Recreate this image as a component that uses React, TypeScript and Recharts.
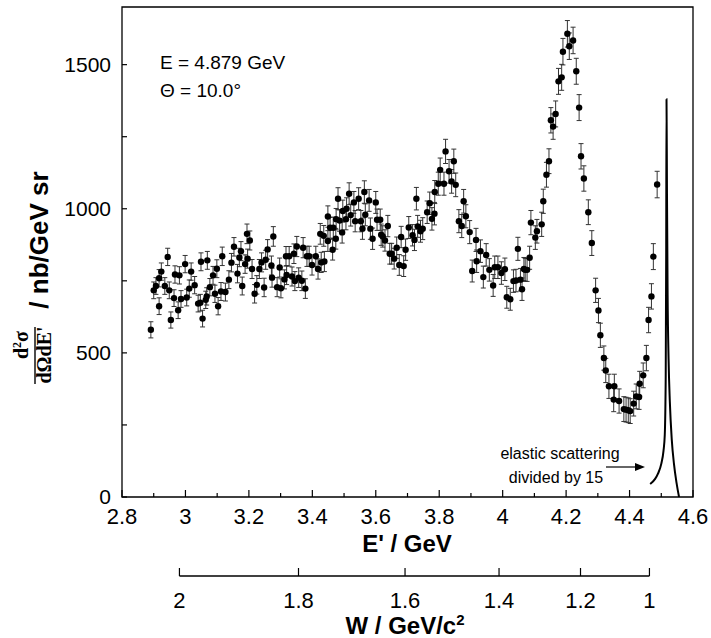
import React from 'react';
import { ComposedChart, Scatter, ErrorBar, Line, XAxis, YAxis, ReferenceArea } from 'recharts';

// measured inclusive cross section, E' in GeV, d2sigma/dOmega dE' in nb/GeV sr
const ePrime = [
  2.891, 2.900, 2.907, 2.917, 2.917, 2.924, 2.935, 2.944, 2.949, 2.954,
  2.964, 2.967, 2.977, 2.981, 2.986, 2.999, 3.004, 3.012, 3.018, 3.029,
  3.040, 3.047, 3.049, 3.054, 3.064, 3.067, 3.069, 3.077, 3.087, 3.093,
  3.099, 3.103, 3.112, 3.116, 3.126, 3.137, 3.145, 3.153, 3.164, 3.170,
  3.175, 3.179, 3.188, 3.194, 3.196, 3.203, 3.210, 3.218, 3.225, 3.233,
  3.240, 3.248, 3.253, 3.259, 3.271, 3.273, 3.277, 3.289, 3.297, 3.301,
  3.312, 3.317, 3.319, 3.327, 3.336, 3.342, 3.345, 3.351, 3.357, 3.367,
  3.371, 3.378, 3.383, 3.390, 3.399, 3.411, 3.418, 3.425, 3.428, 3.436,
  3.438, 3.449, 3.449, 3.456, 3.464, 3.466, 3.474, 3.475, 3.481, 3.486,
  3.494, 3.496, 3.506, 3.508, 3.516, 3.521, 3.531, 3.535, 3.546, 3.553,
  3.558, 3.564, 3.567, 3.579, 3.583, 3.590, 3.600, 3.604, 3.614, 3.617,
  3.622, 3.629, 3.638, 3.644, 3.650, 3.658, 3.666, 3.674, 3.680, 3.688,
  3.694, 3.704, 3.716, 3.722, 3.728, 3.732, 3.741, 3.748, 3.762, 3.770,
  3.777, 3.785, 3.786, 3.797, 3.803, 3.815, 3.820, 3.831, 3.839, 3.846,
  3.852, 3.862, 3.871, 3.877, 3.884, 3.896, 3.904, 3.916, 3.918, 3.930,
  3.939, 3.948, 3.958, 3.970, 3.975, 3.985, 3.996, 4.007, 4.013, 4.024,
  4.034, 4.042, 4.048, 4.056, 4.061, 4.067, 4.071, 4.077, 4.085, 4.089,
  4.103, 4.108, 4.123, 4.128, 4.138, 4.146, 4.152, 4.159, 4.167, 4.176,
  4.186, 4.190, 4.204, 4.210, 4.222, 4.232, 4.241, 4.247, 4.256, 4.270,
  4.281, 4.293, 4.302, 4.308, 4.319, 4.325, 4.335, 4.350, 4.352, 4.367,
  4.382, 4.389, 4.396, 4.402, 4.413, 4.421, 4.430, 4.432, 4.443, 4.453,
  4.460, 4.469, 4.475, 4.487,
];
const sigma = [
  580, 717, 732, 662, 759, 782, 732, 833, 717, 614,
  690, 772, 648, 769, 687, 808, 692, 723, 782, 735,
  671, 674, 816, 619, 684, 696, 821, 728, 769, 705,
  792, 662, 713, 835, 711, 754, 813, 868, 775, 831,
  853, 732, 808, 913, 827, 890, 791, 705, 736, 791,
  814, 727, 823, 859, 803, 761, 904, 728, 796, 724,
  755, 835, 770, 835, 765, 844, 749, 869, 761, 750,
  865, 723, 835, 835, 805, 835, 791, 913, 814, 906,
  817, 973, 888, 934, 858, 934, 896, 964, 1035, 959,
  918, 992, 964, 1000, 1052, 978, 1022, 957, 1035, 957,
  931, 1058, 979, 1029, 931, 896, 1022, 962, 962, 910,
  904, 890, 940, 844, 844, 827, 865, 805, 902, 801,
  858, 935, 908, 892, 1035, 939, 922, 931, 988, 1019,
  965, 983, 1058, 1087, 1135, 1087, 1199, 1130, 1095, 1165,
  1083, 957, 940, 1026, 974, 919, 784, 892, 818, 853,
  763, 840, 788, 734, 797, 797, 777, 790, 693, 686,
  749, 751, 861, 754, 721, 791, 788, 788, 830, 952,
  900, 922, 946, 1026, 1118, 1165, 1307, 1285, 1329, 1442,
  1456, 1545, 1607, 1564, 1584, 1477, 1351, 1182, 1105, 988,
  881, 717, 647, 561, 482, 439, 384, 338, 384, 333,
  305, 303, 301, 298, 324, 349, 347, 393, 422, 482,
  614, 696, 834, 1084,
];
const sigmaErr = [
  28, 29, 29, 29, 30, 30, 29, 30, 29, 28,
  29, 30, 29, 30, 29, 30, 29, 30, 30, 30,
  29, 29, 31, 29, 30, 30, 31, 30, 31, 30,
  31, 30, 31, 32, 31, 31, 32, 32, 32, 32,
  33, 31, 32, 34, 33, 33, 33, 32, 32, 33,
  33, 32, 33, 34, 33, 33, 34, 33, 33, 33,
  33, 34, 33, 34, 33, 34, 33, 35, 34, 34,
  35, 34, 35, 35, 35, 35, 35, 36, 35, 36,
  35, 37, 36, 36, 36, 37, 36, 37, 38, 37,
  37, 38, 37, 38, 38, 38, 38, 37, 38, 37,
  37, 39, 38, 38, 37, 37, 38, 37, 37, 37,
  37, 37, 37, 36, 36, 36, 37, 36, 37, 36,
  37, 38, 37, 37, 39, 38, 38, 38, 39, 39,
  39, 39, 40, 40, 41, 40, 42, 41, 41, 42,
  41, 40, 40, 41, 40, 40, 38, 40, 39, 39,
  38, 39, 39, 38, 39, 39, 39, 39, 38, 38,
  39, 39, 40, 39, 39, 40, 40, 40, 40, 42,
  41, 41, 42, 42, 43, 43, 44, 44, 45, 45,
  45, 46, 46, 46, 46, 45, 45, 44, 44, 43,
  43, 42, 42, 42, 42, 42, 42, 42, 42, 42,
  43, 43, 43, 43, 43, 43, 43, 43, 43, 44,
  44, 44, 45, 46,
];

// elastic peak (already divided by 15)
const elasticE = [4.465, 4.48, 4.49, 4.5, 4.507, 4.511, 4.514, 4.5155, 4.5165, 4.518, 4.52, 4.523, 4.527, 4.533, 4.54, 4.548, 4.556];
const elasticSigma = [45, 62, 82, 115, 160, 215, 420, 850, 1380, 1050, 700, 480, 330, 200, 115, 50, 0];

const eTicks = [2.8, 2.9, 3.0, 3.1, 3.2, 3.3, 3.4, 3.5, 3.6, 3.7, 3.8, 3.9, 4.0, 4.1, 4.2, 4.3, 4.4, 4.5, 4.6];
const eLabels = [2.8, 3, 3.2, 3.4, 3.6, 3.8, 4, 4.2, 4.4, 4.6];
const sigmaTicks = [0, 250, 500, 750, 1000, 1250, 1500];
const sigmaLabels = [0, 500, 1000, 1500];
const wTicks = [2, 1.8, 1.6, 1.4, 1.2, 1];

const beamEnergy = 4.879;
const thetaDeg = 10;
const protonMass = 0.93827;

// W -> E' at fixed beam energy and angle
const kinDenom = 2 * protonMass + 4 * beamEnergy * Math.sin((thetaDeg * Math.PI) / 360) ** 2;
const eFromW = (w: number) => (protonMass * protonMass + 2 * protonMass * beamEnergy - w * w) / kinDenom;

const points = ePrime.map((x, i) => ({ x, y: sigma[i], err: sigmaErr[i] }));
const elasticData = elasticE.map((x, i) => ({ x, y: elasticSigma[i] }));
const wTickPos = wTicks.map(eFromW);
const wLineData = [
  { x: eFromW(wTicks[0]), y: 0 },
  { x: eFromW(wTicks[wTicks.length - 1]), y: 0 },
];

const SANS = '"Liberation Sans", Arial, sans-serif';
const SERIF = '"Liberation Serif", "Times New Roman", serif';

const fmt = (v: number) => String(Number(v.toFixed(1)));
const near = (list: number[], v: number) => list.some((t) => Math.abs(t - v) < 1e-6);

const renderETick = (props: any) => {
  const { x, y, payload } = props;
  const major = near(eLabels, payload.value);
  return (
    <g>
      <line x1={x} y1={y} x2={x} y2={y - (major ? 7 : 4)} stroke="#000" strokeWidth={1.2} />
      {major && (
        <text x={x} y={y + 27} textAnchor="middle" fontSize={22} fontFamily={SANS} fill="#000">
          {fmt(payload.value)}
        </text>
      )}
    </g>
  );
};

const renderSigmaTick = (props: any) => {
  const { x, y, payload } = props;
  const major = near(sigmaLabels, payload.value);
  return (
    <g>
      <line x1={x} y1={y} x2={x + 5} y2={y} stroke="#000" strokeWidth={1.2} />
      {major && (
        <text x={x - 11} y={y + 7} textAnchor="end" fontSize={21} fontFamily={SANS} fill="#000">
          {payload.value}
        </text>
      )}
    </g>
  );
};

const renderWTick = (props: any) => {
  const { x, y, index } = props;
  return (
    <g>
      <line x1={x} y1={y} x2={x} y2={y - 8} stroke="#000" strokeWidth={1.2} />
      <text x={x} y={y + 32} textAnchor="middle" fontSize={22} fontFamily={SANS} fill="#000">
        {fmt(wTicks[index])}
      </text>
    </g>
  );
};

const renderDot = (props: any) => <circle cx={props.cx} cy={props.cy} r={3.2} fill="#000" />;

export default function App() {
  return (
    <div style={{ position: 'absolute', left: 0, top: 0, width: 711, height: 638, background: '#fff' }}>
      <div style={{ position: 'absolute', left: 0, top: 0 }}>
        <ComposedChart width={711} height={570} margin={{ top: 7, right: 18, left: 62, bottom: 0 }}>
          <XAxis
            dataKey="x"
            type="number"
            domain={[2.8, 4.6]}
            ticks={eTicks}
            interval={0}
            allowDataOverflow
            height={73}
            tickSize={0}
            tickMargin={0}
            tickLine={false}
            axisLine={false}
            tick={renderETick}
          />
          <YAxis
            dataKey="y"
            type="number"
            domain={[0, 1700]}
            ticks={sigmaTicks}
            interval={0}
            allowDataOverflow
            width={60}
            tickSize={0}
            tickMargin={0}
            tickLine={false}
            axisLine={false}
            tick={renderSigmaTick}
          />
          <ReferenceArea x1={2.8} x2={4.6} y1={0} y2={1700} fill="none" stroke="#000" strokeWidth={1.3} />
          <Line
            data={elasticData}
            dataKey="y"
            type="monotone"
            stroke="#000"
            strokeWidth={2}
            dot={false}
            isAnimationActive={false}
          />
          <Scatter data={points} dataKey="y" shape={renderDot} isAnimationActive={false}>
            <ErrorBar dataKey="err" direction="y" width={2.5} stroke="#333" strokeWidth={1} isAnimationActive={false} />
          </Scatter>
        </ComposedChart>
      </div>

      <div style={{ position: 'absolute', left: 0, top: 528 }}>
        <ComposedChart width={711} height={110} margin={{ top: 10, right: 18, left: 122, bottom: 0 }}>
          <XAxis
            dataKey="x"
            type="number"
            domain={[2.8, 4.6]}
            ticks={wTickPos}
            interval={0}
            allowDataOverflow
            height={62}
            tickSize={0}
            tickMargin={0}
            tickLine={false}
            axisLine={false}
            tick={renderWTick}
          />
          <YAxis hide type="number" domain={[0, 1]} />
          <Line data={wLineData} dataKey="y" stroke="#000" strokeWidth={1.3} dot={false} isAnimationActive={false} />
        </ComposedChart>
      </div>

      <svg
        width={711}
        height={638}
        style={{ position: 'absolute', left: 0, top: 0, pointerEvents: 'none' }}
        fontFamily={SANS}
        fill="#000"
      >
        <text x={160} y={69} fontSize={19}>E = 4.879 GeV</text>
        <text x={160} y={97} fontSize={19}>Θ = 10.0°</text>
        <text x={560} y={459} fontSize={16} textAnchor="middle">elastic scattering</text>
        <text x={556} y={483} fontSize={16} textAnchor="middle">divided by 15</text>
        <line x1={606} y1={467} x2={637} y2={467} stroke="#000" strokeWidth={1.2} />
        <polygon points="645,467 635,463 635,471" fill="#000" />

        <text x={407} y={552} fontSize={24} fontWeight="bold" textAnchor="middle">E' / GeV</text>
        <text x={405} y={634} fontSize={24} fontWeight="bold" textAnchor="middle">
          W / GeV/c<tspan dy={-9} fontSize={15}>2</tspan>
        </text>

        <g transform="rotate(-90)">
          <text x={-345} y={28} fontSize={20} fontFamily={SERIF} fontWeight="bold" textAnchor="middle">
            d<tspan dy={-7} fontSize={12}>2</tspan>
            <tspan dy={7}>σ</tspan>
          </text>
          <line x1={-384} y1={35} x2={-327} y2={35} stroke="#000" strokeWidth={1.4} />
          <text x={-355} y={51} fontSize={20} fontFamily={SERIF} fontWeight="bold" textAnchor="middle">
            dΩdE'
          </text>
          <text x={-240} y={48} fontSize={26} fontWeight="bold" textAnchor="middle">
            / nb/GeV sr
          </text>
        </g>
      </svg>
    </div>
  );
}
